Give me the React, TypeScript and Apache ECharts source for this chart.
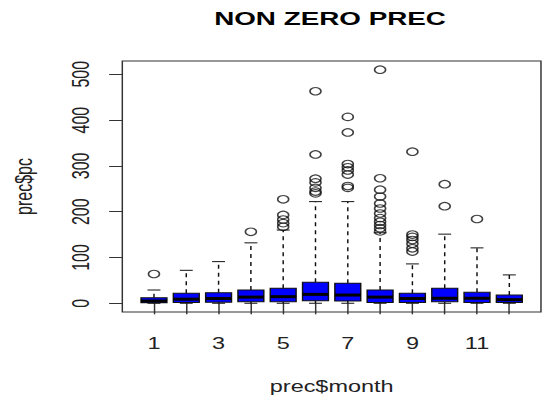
import React, { useEffect, useRef } from "react";
import * as echarts from "echarts";

// Monthly precipitation (non-zero days): five-number summaries per month
const months = [1, 2, 3, 4, 5, 6, 7, 8, 9, 10, 11, 12];
const whiskerLow = [0.1, 0.1, 0.1, 0.1, 0.1, 0.1, 0.1, 0.1, 0.1, 0.1, 0.1, 0.1];
const q1 = [1, 2, 2.5, 3.5, 3.5, 5.5, 5, 2, 2, 3.5, 2, 2];
const medians = [5, 9, 10.5, 13.5, 14.5, 19.5, 18, 13.5, 10.5, 11, 11, 8];
const q3 = [12, 22, 23, 29, 33, 46, 44, 29, 22, 33, 24, 18];
const whiskerHigh = [29, 72, 91, 132, 160, 222, 222, 154, 86, 151, 121, 62];

// Points beyond the whiskers, one list per month
const outliers: number[][] = [
  [64],
  [],
  [],
  [156],
  [227, 193, 183, 175, 167],
  [463, 325, 272, 264, 252, 244, 240],
  [407, 373, 304, 297, 290, 281, 256, 252],
  [510, 273, 248, 233, 218, 207, 196, 186, 178, 171, 164, 157],
  [331, 150, 145, 138, 130, 120, 113],
  [260, 212],
  [184],
  [],
];

const yTickValues = [0, 100, 200, 300, 400, 500];
const xLabelValues = [1, 3, 5, 7, 9, 11];

const PAGE_W = 542;
const PAGE_H = 403;
const CHART_W = 370;
const STRETCH = PAGE_W / CHART_W;
const FONT = '"Liberation Sans", Arial, Helvetica, sans-serif';
const INK = "#222";

export default function App() {
  const ref = useRef<HTMLDivElement>(null);

  useEffect(() => {
    if (!ref.current) return;
    const chart = echarts.init(ref.current, null, { renderer: "svg" });

    const boxData = months.map((m, i) => [
      m,
      whiskerLow[i],
      q1[i],
      medians[i],
      q3[i],
      whiskerHigh[i],
    ]);
    const outlierData = outliers.flatMap((vals, i) =>
      vals.map((v) => [months[i], v])
    );

    chart.setOption({
      animation: false,
      textStyle: { fontFamily: FONT },
      title: {
        text: "NON ZERO PREC",
        left: 225.3,
        top: 9,
        padding: 0,
        textAlign: "center",
        textStyle: {
          fontFamily: FONT,
          fontSize: 19,
          fontWeight: "bold",
          color: "#000",
        },
      },
      grid: {
        left: 81.2,
        top: 61,
        width: 288.1,
        height: 251,
        show: true,
        borderColor: "#333",
        borderWidth: 1,
        backgroundColor: "transparent",
      },
      xAxis: {
        type: "value",
        min: 0.02,
        max: 12.98,
        name: "prec$month",
        nameLocation: "middle",
        nameGap: 66,
        nameTextStyle: { fontFamily: FONT, fontSize: 16, color: INK },
        axisLine: { show: false },
        splitLine: { show: false },
        axisTick: {
          show: true,
          length: 11,
          customValues: months,
          lineStyle: { color: "#333", width: 1 },
        },
        axisLabel: {
          customValues: xLabelValues,
          margin: 23.5,
          fontFamily: FONT,
          fontSize: 16,
          color: INK,
        },
      },
      yAxis: {
        type: "value",
        min: -19,
        max: 529,
        name: "prec$pc",
        nameLocation: "middle",
        nameGap: 59.5,
        nameTextStyle: { fontFamily: FONT, fontSize: 16, color: INK },
        axisLine: { show: false },
        splitLine: { show: false },
        axisTick: {
          show: true,
          length: 9,
          customValues: yTickValues,
          lineStyle: { color: "#333", width: 1 },
        },
        axisLabel: {
          customValues: yTickValues,
          rotate: 90,
          margin: 20,
          fontFamily: FONT,
          fontSize: 16,
          color: INK,
        },
      },
      series: [
        {
          type: "custom",
          data: boxData,
          encode: { x: 0, y: [1, 2, 3, 4, 5] },
          renderItem: (_params: any, api: any) => {
            const x = api.value(0);
            const pLo = api.coord([x, api.value(1)]);
            const pQ1 = api.coord([x, api.value(2)]);
            const pMd = api.coord([x, api.value(3)]);
            const pQ3 = api.coord([x, api.value(4)]);
            const pHi = api.coord([x, api.value(5)]);
            const half = api.size([0.8, 0])[0] / 2;
            const cap = half / 2;
            const cx = pMd[0];
            const dash = { stroke: "#111", lineWidth: 1, lineDash: [4, 4], fill: null };
            const solid = { stroke: "#111", lineWidth: 1, fill: null };
            return {
              type: "group",
              children: [
                {
                  type: "line",
                  shape: { x1: cx, y1: pQ3[1], x2: cx, y2: pHi[1] },
                  style: dash,
                },
                {
                  type: "line",
                  shape: { x1: cx, y1: pQ1[1], x2: cx, y2: pLo[1] },
                  style: dash,
                },
                {
                  type: "line",
                  shape: { x1: cx - cap, y1: pHi[1], x2: cx + cap, y2: pHi[1] },
                  style: solid,
                },
                {
                  type: "line",
                  shape: { x1: cx - cap, y1: pLo[1], x2: cx + cap, y2: pLo[1] },
                  style: solid,
                },
                {
                  type: "rect",
                  shape: {
                    x: cx - half,
                    y: pQ3[1],
                    width: half * 2,
                    height: pQ1[1] - pQ3[1],
                  },
                  style: { fill: "#0000ff", stroke: "#111", lineWidth: 1 },
                },
                {
                  type: "line",
                  shape: { x1: cx - half, y1: pMd[1], x2: cx + half, y2: pMd[1] },
                  style: { stroke: "#000", lineWidth: 3, fill: null },
                },
              ],
            };
          },
        },
        {
          type: "scatter",
          data: outlierData,
          symbol: "circle",
          symbolSize: 7.5,
          itemStyle: {
            color: "rgba(0,0,0,0)",
            borderColor: "#111",
            borderWidth: 1.1,
          },
          z: 3,
        },
      ],
    });

    return () => chart.dispose();
  }, []);

  return (
    <div
      style={{
        position: "fixed",
        left: 0,
        top: 0,
        width: PAGE_W,
        height: PAGE_H,
        overflow: "hidden",
        background: "#fff",
      }}
    >
      <div
        ref={ref}
        style={{
          width: CHART_W,
          height: PAGE_H,
          transform: `scaleX(${STRETCH})`,
          transformOrigin: "0 0",
        }}
      />
    </div>
  );
}
